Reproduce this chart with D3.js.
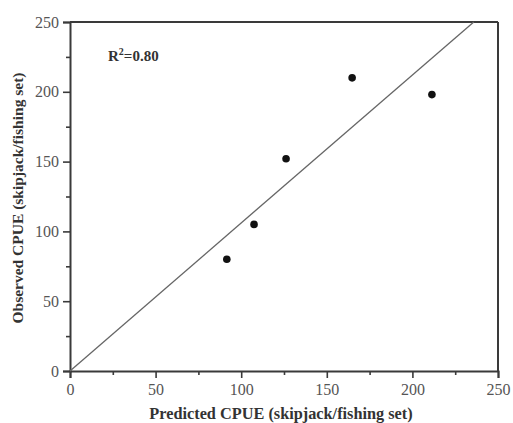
<!DOCTYPE html>
<html>
<head>
<meta charset="utf-8">
<script src="https://cdn.jsdelivr.net/npm/d3@7"></script>
<style>
  body { margin: 0; background: #fff; }
  svg { display: block; font-family: "Liberation Serif", "Times New Roman", serif; }
</style>
</head>
<body>
<svg id="chart" width="513" height="423"></svg>
<script>
// observed vs predicted CPUE
var predicted = [91.6, 107.5, 126.2, 164.8, 211.4];
var observed  = [80, 105, 152, 210, 198];
var xTicks = [0, 50, 100, 150, 200, 250];
var yTicks = [0, 50, 100, 150, 200, 250];
var fitSlope = 1.06;
var r2Label = "0.80";

var margin = {top: 22, right: 15, bottom: 52, left: 70};
var svg = d3.select("#chart");
var width = +svg.attr("width") - margin.left - margin.right;
var height = +svg.attr("height") - margin.top - margin.bottom;
var g = svg.append("g").attr("transform", `translate(${margin.left}, ${margin.top})`);

var x = d3.scaleLinear().domain([0, 250]).range([0, width]);
var y = d3.scaleLinear().domain([0, 250]).range([height, 0]);

var axisColor = "#3a3a3a";

// minor ticks first
g.append("g")
  .attr("transform", `translate(0, ${height})`)
  .call(d3.axisBottom(x).tickValues(d3.range(25, 250, 50)).tickSize(4).tickFormat(""))
  .call(a => a.select(".domain").remove());
g.append("g")
  .call(d3.axisLeft(y).tickValues(d3.range(25, 250, 50)).tickSize(4).tickFormat(""))
  .call(a => a.select(".domain").remove());

var xAxis = g.append("g")
  .attr("transform", `translate(0, ${height})`)
  .call(d3.axisBottom(x).tickValues(xTicks).tickSize(7).tickPadding(6));
var yAxis = g.append("g")
  .call(d3.axisLeft(y).tickValues(yTicks).tickSize(7).tickPadding(4));

g.selectAll(".tick line").attr("stroke", axisColor).attr("stroke-width", 1.6);
g.selectAll(".domain").attr("stroke", axisColor).attr("stroke-width", 2);
g.selectAll(".tick text")
  .attr("fill", "#555")
  .style("font-size", "16px")
  .style("font-family", "Liberation Serif, serif");

// frame top & right
g.append("line").attr("x1", 0).attr("x2", width).attr("y1", 0).attr("y2", 0)
  .attr("stroke", axisColor).attr("stroke-width", 2);
g.append("line").attr("x1", width).attr("x2", width).attr("y1", 0).attr("y2", height)
  .attr("stroke", axisColor).attr("stroke-width", 2);

// fitted line through origin, stops at the top
var xEnd = 250 / fitSlope;
g.append("line")
  .attr("x1", x(0)).attr("y1", y(0))
  .attr("x2", x(xEnd)).attr("y2", y(fitSlope * xEnd))
  .attr("stroke", "#666").attr("stroke-width", 1.3);

var pts = predicted.map((d, i) => ({p: d, o: observed[i]}));
g.selectAll("circle.pt")
  .data(pts)
  .enter().append("circle")
  .attr("class", "pt")
  .attr("cx", d => x(d.p))
  .attr("cy", d => y(d.o))
  .attr("r", 3.8)
  .attr("fill", "#111");

// R^2 label
var rt = g.append("text")
  .attr("x", 38).attr("y", 39)
  .attr("fill", "#333")
  .style("font-size", "15px")
  .style("font-weight", "bold");
rt.append("tspan").text("R");
rt.append("tspan").attr("dy", -6).style("font-size", "10px").text("2");
rt.append("tspan").attr("dy", 6).text("=" + r2Label);

// axis titles
svg.append("text")
  .attr("x", 281).attr("y", 419)
  .attr("text-anchor", "middle")
  .attr("fill", "#333")
  .style("font-size", "16.3px").style("font-weight", "bold")
  .text("Predicted CPUE (skipjack/fishing set)");

svg.append("text")
  .attr("transform", `translate(23, 198) rotate(-90)`)
  .attr("text-anchor", "middle")
  .attr("fill", "#333")
  .style("font-size", "15.5px").style("font-weight", "bold")
  .text("Observed CPUE (skipjack/fishing set)");
</script>
</body>
</html>
